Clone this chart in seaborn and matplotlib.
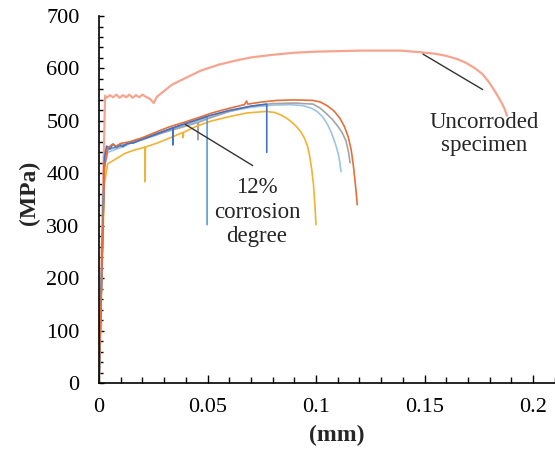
import pandas as pd
import seaborn as sns
import matplotlib.pyplot as plt
from matplotlib.ticker import MultipleLocator, FuncFormatter

# Stress-displacement curves
unc_x = [0, 0.0015, 0.0028, 0.0035, 0.005, 0.0065, 0.008, 0.0095, 0.011, 0.0125, 0.014, 0.0155,
         0.017, 0.0185, 0.02, 0.0215, 0.0235, 0.0252, 0.0267, 0.03, 0.0336, 0.04, 0.047, 0.055,
         0.063, 0.07, 0.08, 0.09, 0.1, 0.11, 0.12, 0.13, 0.139, 0.148, 0.155, 0.16, 0.165,
         0.169, 0.173, 0.1765, 0.1795, 0.1822, 0.1848, 0.1868, 0.188]
unc_y = [0, 300, 548, 544, 549, 545, 550, 544, 549, 545, 550, 544,
         549, 545, 550, 546, 542, 534, 546, 557, 569, 582, 596, 607,
         615, 621, 626, 630, 632, 633, 634, 634, 634, 631, 628, 624, 618,
         611, 601, 590, 575, 558, 540, 524, 510]

orange_x = [0, 0.0012, 0.0025, 0.004, 0.006, 0.008, 0.01, 0.014, 0.02, 0.026, 0.032, 0.039,
            0.045, 0.052, 0.06, 0.067, 0.068, 0.0685, 0.075, 0.082, 0.09, 0.0986, 0.102,
            0.1055, 0.1085, 0.111, 0.113, 0.1148, 0.1162, 0.1172, 0.118, 0.1186, 0.119]
orange_y = [0, 200, 410, 448, 455, 452, 457, 460, 468, 478, 488, 497,
            505, 515, 524, 531, 538, 532, 536, 539, 540, 539, 536,
            528, 518, 505, 490, 470, 445, 415, 385, 360, 340]

gray_x = [0, 0.0025, 0.004, 0.008, 0.012, 0.02, 0.03, 0.04, 0.0456, 0.0456, 0.0458, 0.05,
          0.06, 0.07, 0.08, 0.09, 0.0986, 0.102, 0.1045, 0.1075, 0.11, 0.112, 0.1138, 0.115,
          0.1157]
gray_y = [0, 415, 445, 450, 454, 464, 478, 490, 497, 464, 497, 504,
          518, 528, 533, 534, 532, 524, 515, 503, 490, 478, 462, 440,
          420]

lblue_x = [0, 0.0025, 0.004, 0.008, 0.012, 0.016, 0.02, 0.025, 0.03, 0.04, 0.05, 0.06, 0.07,
           0.08, 0.088, 0.094, 0.098, 0.1005, 0.103, 0.1052, 0.107, 0.1088, 0.1102, 0.111,
           0.1115]
lblue_y = [0, 410, 440, 446, 452, 462, 466, 476, 480, 492, 506, 518, 526,
           530, 531, 529, 524, 518, 508, 494, 478, 458, 438, 420,
           403]

gold_x = [0, 0.0025, 0.004, 0.008, 0.012, 0.016, 0.0212, 0.0212, 0.0214, 0.027, 0.033, 0.0387,
          0.0387, 0.039, 0.045, 0.052, 0.06, 0.068, 0.077, 0.081, 0.084, 0.0865, 0.089, 0.091,
          0.093, 0.0948, 0.0962, 0.0972, 0.098, 0.0988, 0.0994, 0.1]
gold_y = [0, 380, 418, 428, 438, 444, 450, 384, 450, 458, 468, 478,
          468, 478, 490, 500, 508, 515, 518, 516, 511, 505, 497, 489,
          479, 466, 450, 430, 408, 380, 345, 302]

mblue_x = [0, 0.0025, 0.004, 0.008, 0.012, 0.02, 0.03, 0.04, 0.0498, 0.0498]
mblue_y = [0, 420, 446, 450, 455, 466, 480, 495, 508, 302]

dblue_x = [0, 0.0025, 0.0035, 0.005, 0.0065, 0.008, 0.0095, 0.011, 0.013, 0.016, 0.02, 0.026,
           0.034, 0.034, 0.0342, 0.04, 0.05, 0.06, 0.07, 0.0773, 0.0773]
dblue_y = [0, 430, 452, 447, 456, 449, 455, 451, 457, 458, 465, 474,
           487, 454, 487, 495, 509, 520, 528, 532, 440]

sns.set_style("white")
plt.rcParams['font.family'] = ['Liberation Serif', 'DejaVu Serif']

fig = plt.figure(figsize=(5.55, 4.55), dpi=100)
ax = fig.add_axes([0.1784, 0.1582, 0.8211, 0.8066])

curves = [
    (unc_x, unc_y, '#F6A48E', 1.6),
    (lblue_x, lblue_y, '#9DC3E6', 1.2),
    (gray_x, gray_y, '#A5A5A5', 1.2),
    (gold_x, gold_y, '#F2B233', 1.2),
    (mblue_x, mblue_y, '#5B9BD5', 1.2),
    (dblue_x, dblue_y, '#4472C4', 1.2),
    (orange_x, orange_y, '#E2703A', 1.2),
]
for xs, ys, col, lw in curves:
    df = pd.DataFrame({'x': xs, 'y': ys})
    sns.lineplot(data=df, x='x', y='y', sort=False, estimator=None,
                 color=col, linewidth=lw, ax=ax)

ax.set_xlim(0, 0.21)
ax.set_ylim(0, 700)
ax.xaxis.set_major_locator(MultipleLocator(0.05))
ax.xaxis.set_minor_locator(MultipleLocator(0.01))
ax.yaxis.set_major_locator(MultipleLocator(100))
ax.yaxis.set_minor_locator(MultipleLocator(20))
ax.xaxis.set_major_formatter(FuncFormatter(lambda v, p: '%g' % round(v, 3)))

ax.tick_params(axis='x', which='major', direction='in', length=6, width=1, pad=11,
               labelsize=16, colors='black', bottom=True)
ax.tick_params(axis='x', which='minor', direction='in', length=4, width=1,
               color='black', bottom=True)
ax.tick_params(axis='y', which='major', direction='in', length=3.5, width=1, pad=14,
               labelsize=16, colors='black', left=True)
ax.tick_params(axis='y', which='minor', direction='in', length=3, width=1,
               color='black', left=True)

for s in ['top', 'right']:
    ax.spines[s].set_visible(False)
for s in ['left', 'bottom']:
    ax.spines[s].set_color('black')
    ax.spines[s].set_linewidth(1.2)

ax.set_xlabel('(mm)', fontsize=17, fontweight='bold')
ax.set_ylabel('(MPa)', fontsize=17, fontweight='bold')
ax.xaxis.set_label_coords(0.522, -0.115)
ax.yaxis.set_label_coords(-0.13, 0.518)

# leader lines and notes
ax.annotate('', xy=(0.0387, 496), xytext=(0.0719, 412),
            arrowprops=dict(arrowstyle='-', color='#333333', lw=1))
ax.text(0.0728, 326, '12%\ncorrosion\ndegree', ha='center', va='center', fontsize=16.5)
ax.annotate('', xy=(0.1482, 630), xytext=(0.1779, 557),
            arrowprops=dict(arrowstyle='-', color='#333333', lw=1))
ax.text(0.1774, 475, 'Uncorroded\nspecimen', ha='center', va='center', fontsize=16.5,
        linespacing=1.1)

plt.savefig('out.png', dpi=100)
